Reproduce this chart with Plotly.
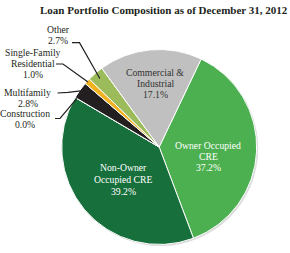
import math
import plotly.graph_objects as go

W, H = 290, 253

categories = ["Owner Occupied CRE", "Non-Owner Occupied CRE", "Construction",
              "Multifamily", "Single-Family Residential", "Other",
              "Commercial & Industrial"]
values = [37.2, 39.2, 0.0, 2.8, 1.0, 2.7, 17.1]
colors = ["#4cb050", "#176f3b", "#1a4a2a", "#231f20", "#f2b21f", "#9cbc5c", "#c0c0c0"]
label_lines = [["Owner Occupied", "CRE", "37.2%"],
               ["Non-Owner", "Occupied CRE", "39.2%"],
               ["Construction", "0.0%"],
               ["Multifamily", "2.8%"],
               ["Single-Family", "Residential", "1.0%"],
               ["Other", "2.7%"],
               ["Commercial &", "Industrial", "17.1%"]]
title = "Loan Portfolio Composition as of December 31, 2012"

rotation = 25.5
cx, cy, R = 159.2, 147.0, 97.5  # pixel geometry of pie


def px(x, y):
    return x / W, 1 - y / H


dom_x = [(cx - R) / W, (cx + R) / W]
dom_y = [1 - (cy + R) / H, 1 - (cy - R) / H]

fig = go.Figure()
# soft shadow
fig.add_trace(go.Pie(values=[1], marker=dict(colors=["#dcdcdc"]), textinfo="none",
                     hoverinfo="skip", showlegend=False, sort=False,
                     domain=dict(x=[dom_x[0] + 1.5 / W, dom_x[1] + 1.5 / W],
                                 y=[dom_y[0] - 1.5 / H, dom_y[1] - 1.5 / H])))
fig.add_trace(go.Pie(labels=categories, values=values, sort=False, direction="clockwise",
                     rotation=rotation, textinfo="none", showlegend=False,
                     marker=dict(colors=colors, line=dict(color="white", width=1)),
                     domain=dict(x=dom_x, y=dom_y)))

# slice mid angles
total = sum(values)
mids = []
a = rotation
for v in values:
    span = v / total * 360
    mids.append(a + span / 2)
    a += span


def edge(i, f):
    ang = math.radians(mids[i])
    return cx + R * f * math.sin(ang), cy - R * f * math.cos(ang)


ann = []
FAM = "Liberation Serif"
FS = 9.7
# label placement (center x, first line y, line step, colour)
place = {0: (208, 145, 11.2, "white"),
         1: (123, 167.5, 12.2, "white"),
         6: (155, 72, 11.2, "#333333"),
         5: (58, 29, 11.5, "#231f20"),
         4: (33, 52, 11.3, "#231f20"),
         3: (27.5, 92.5, 10.8, "#231f20"),
         2: (25, 113.7, 11.0, "#231f20")}
for i, (x, y, step, c) in place.items():
    for k, line in enumerate(label_lines[i]):
        xp, yp = px(x, y + k * step)
        ann.append(dict(x=xp, y=yp, xref="paper", yref="paper", text=line,
                        showarrow=False, yanchor="middle", xanchor="center",
                        font=dict(family=FAM, size=FS, color=c)))

ann.append(dict(x=163.5 / W, y=1 - 10 / H, xref="paper", yref="paper",
                text="<b>" + title + "</b>", yanchor="middle",
                showarrow=False, font=dict(family=FAM, size=11, color="#231f20")))

# leader lines
leaders = {5: [(72, 42.7), (79.5, 42.7)], 4: [(56, 64), (63, 64)],
           3: [(57.5, 93), (68, 92.3)], 2: [(55, 118.5), (60, 118.5)]}
ends = {5: 0.93, 4: 0.99, 3: 0.99, 2: 0.98}
shapes = []
for i, pts in leaders.items():
    pts = pts + [edge(i, ends[i])]
    path = "M " + " L ".join("%.4f,%.4f" % px(x, y) for x, y in pts)
    shapes.append(dict(type="path", path=path, xref="paper", yref="paper",
                       line=dict(color="#231f20", width=1.2)))

fig.update_layout(width=W, height=H, margin=dict(l=0, r=0, t=0, b=0),
                  paper_bgcolor="white", plot_bgcolor="white",
                  annotations=ann, shapes=shapes)
fig.write_html("out.html")
